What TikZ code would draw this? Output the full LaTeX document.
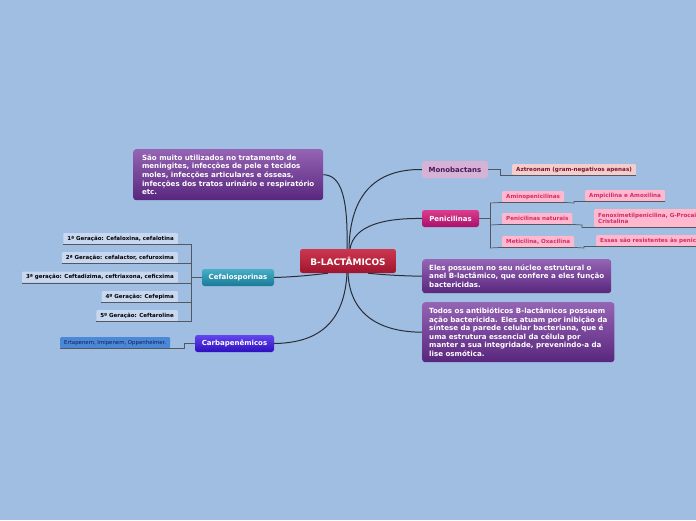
\documentclass[tikz,border=0pt]{standalone}
\usepackage{fontspec}
\setmainfont{DejaVu Sans}
\definecolor{bg}{RGB}{160,190,225}
\definecolor{cline}{RGB}{40,45,55}
\definecolor{ctop}{RGB}{205,55,80}
\definecolor{cbot}{RGB}{160,20,45}
\definecolor{dtop}{RGB}{150,100,180}
\definecolor{dbot}{RGB}{88,38,125}
\definecolor{monofill}{RGB}{215,178,215}
\definecolor{monotext}{RGB}{70,25,90}
\definecolor{aztfill}{RGB}{244,205,205}
\definecolor{azttext}{RGB}{120,25,40}
\definecolor{ptop}{RGB}{220,60,140}
\definecolor{pbot}{RGB}{168,16,106}
\definecolor{leaffill}{RGB}{255,184,205}
\definecolor{leaftext}{RGB}{205,45,105}
\definecolor{cftop}{RGB}{70,175,200}
\definecolor{cfbot}{RGB}{25,122,150}
\definecolor{genfill}{RGB}{200,216,240}
\definecolor{catop}{RGB}{100,70,240}
\definecolor{cabot}{RGB}{45,15,190}
\definecolor{ertfill}{RGB}{75,136,216}
\definecolor{erttext}{RGB}{15,30,75}
\tikzset{
  conn/.style={draw=cline, line width=1pt},
  sub/.style={draw=cline!80, line width=0.7pt},
  mainbox/.style={rounded corners=2.5pt, font=\bfseries\fontsize{7}{8}\selectfont, text=white, minimum height=17pt, inner xsep=5pt, inner ysep=0pt},
  descbox/.style={rounded corners=3pt, top color=dtop, bottom color=dbot, text=white, font=\bfseries\fontsize{7.1}{8.6}\selectfont, align=left, inner xsep=7pt, inner ysep=4pt, anchor=north west},
  leaf/.style={rounded corners=1pt, fill=leaffill, text=leaftext, font=\bfseries\fontsize{5.6}{6.4}\selectfont, minimum height=11pt, inner xsep=4pt, inner ysep=1pt, anchor=north west, align=left},
  gen/.style={rounded corners=1pt, fill=genfill, text=black, font=\bfseries\fontsize{5.5}{6.2}\selectfont, minimum height=11pt, inner xsep=4pt, inner ysep=0pt, anchor=north east}
}
\begin{document}
\begin{tikzpicture}[x=1pt,y=-1pt]
\fill[bg] (0,0) rectangle (696,520);
\useasboundingbox (0,0) rectangle (696,520);

% central
\node[mainbox, top color=ctop, bottom color=cbot, minimum width=96pt, minimum height=24pt, font=\bfseries\fontsize{9}{10}\selectfont] (c) at (348,261) {B-LACTÂMICOS};

% description top-left
\node[descbox, minimum width=190pt, minimum height=51pt] (d1) at (133,149) {São muito utilizados no tratamento de\\meningites, infecções de pele e tecidos\\moles, infecções articulares e ósseas,\\infecções dos tratos urinário e respiratório\\etc.};

% right descriptions
\node[descbox, minimum width=189pt, minimum height=34pt] (d2) at (422,259) {Eles possuem no seu núcleo estrutural o\\anel B-lactâmico, que confere a eles função\\bactericidas.};
\node[descbox, minimum width=189pt, minimum height=60pt] (d3) at (422,302) {Todos os antibióticos B-lactâmicos possuem\\ação bactericida. Eles atuam por inibição da\\síntese da parede celular bacteriana, que é\\uma estrutura essencial da célula por\\manter a sua integridade, prevenindo-a da\\lise osmótica.};

% Monobactans
\node[mainbox, fill=monofill, text=monotext, minimum width=66pt] (mono) at (455,169.5) {Monobactans};
\node[leaf, fill=aztfill, text=azttext] (azt) at (512,164) {Aztreonam (gram-negativos apenas)};

% Penicilinas
\node[mainbox, top color=ptop, bottom color=pbot, minimum width=57pt] (peni) at (450.5,218.5) {Penicilinas};
\node[leaf] (amino) at (502,191) {Aminopenicilinas};
\node[leaf] (ampi) at (585,190) {Ampicilina e Amoxilina};
\node[leaf] (nat) at (502,213) {Penicilinas naturais};
\node[leaf, minimum height=18pt] (feno) at (594,209) {Fenoximetilpenicilina, G-Procaina\\Cristalina};
\node[leaf] (meti) at (502,236) {Meticilina, Oxacilina};
\node[leaf] (essas) at (596,235) {Essas são resistentes às penicilinases};

% Cefalosporinas
\node[mainbox, top color=cftop, bottom color=cfbot, minimum width=72pt] (cefa) at (238,277.5) {Cefalosporinas};
\node[gen] (g1) at (178,233) {1ª Geração: Cefaloxina, cefalotina};
\node[gen] (g2) at (178,252) {2ª Geração: cefalactor, cefuroxima};
\node[gen] (g3) at (178,271.5) {3ª geração: Ceftadizima, ceftriaxona, ceficxima};
\node[gen] (g4) at (178,291) {4º Geração: Cefepima};
\node[gen] (g5) at (178,310) {5º Geração: Ceftaroline};

% Carbapenemicos
\node[mainbox, top color=catop, bottom color=cabot, minimum width=79pt] (carba) at (234.5,343.5) {Carbapenêmicos};
\node[gen, fill=ertfill, text=erttext, font=\fontsize{5.4}{6}\selectfont, anchor=north west] (ert) at (60,337) {Ertapenem, Imipenem, Oppenheimer.};

% main connectors
\draw[conn] (d1.east) .. controls (342,175) and (348,200) .. ([xshift=-1pt]c.north);
\draw[conn] ([xshift=1pt]c.north) .. controls (350,195) and (375,169) .. (mono.west);
\draw[conn] ([xshift=2pt]c.north) .. controls (354,225) and (385,218) .. (peni.west);
\draw[conn] ([xshift=20pt]c.south) .. controls (385,275) and (405,276) .. (d2.west);
\draw[conn] (c.south) .. controls (350,315) and (380,332) .. (d3.west);
\draw[conn] ([xshift=-20pt]c.south) .. controls (305,276) and (290,277) .. (cefa.east);
\draw[conn] ([xshift=-1pt]c.south) .. controls (344,330) and (310,343) .. (carba.east);

% sub connectors
\draw[sub] (mono.east) -- (500,169.5) |- (azt.south west) -- (azt.south east);
\draw[sub] (peni.east) -- (490,218.5);
\draw[sub] (490,203) -- (490,248);
\draw[sub] (490,203) -- (amino.south west) -- (amino.south east);
\draw[sub] (490,225) -- (nat.south west) -- (nat.south east);
\draw[sub] (490,248) -- (meti.south west) -- (meti.south east);
\draw[sub] (amino.south east) -- (574,203) |- (ampi.south west) -- (ampi.south east);
\draw[sub] (nat.south east) -- (582,225) |- (feno.south west) -- (feno.south east);
\draw[sub] (meti.south east) -- (584,248) |- (essas.south west) -- (essas.south east);

\draw[sub] (cefa.west) -- (191,277.5);
\draw[sub] (191,244) -- (191,321);
\foreach \g in {g1,g2,g3,g4,g5} {
  \draw[sub] (\g.south west) -- (\g.south east) -| (191,244);
}
\draw[sub] (carba.west) -- (184,343.5) |- (ert.south east) -- (ert.south west);
\end{tikzpicture}
\end{document}
